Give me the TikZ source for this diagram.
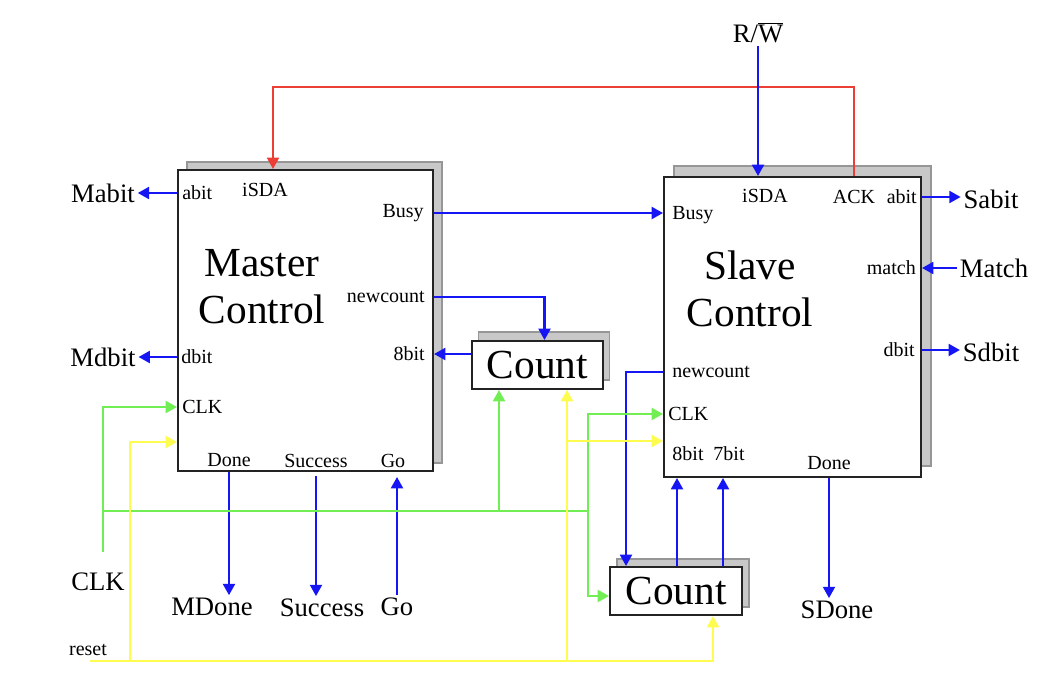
\documentclass[tikz,border=0pt]{standalone}
\usepackage{fontspec}
\setmainfont{Liberation Serif}
\usetikzlibrary{arrows.meta,calc,shadows}
\definecolor{busblue}{RGB}{22,22,245}
\definecolor{ackred}{RGB}{236,62,52}
\definecolor{clkgreen}{RGB}{112,238,84}
\definecolor{rstyellow}{RGB}{255,252,80}
\definecolor{boxedge}{RGB}{35,35,35}
\definecolor{shadefill}{RGB}{200,200,200}
\definecolor{shadeedge}{RGB}{150,150,150}
\tikzset{
  block/.style 2 args={%
    draw=boxedge,fill=white,
    line width=1.5pt,inner sep=0pt,
    drop shadow={shadow xshift=#1,shadow yshift=#2,
      fill=shadefill,draw=shadeedge,line width=1pt,opacity=1},
  },
  countbox/.style={%
    font=\fontsize{31}{35}\selectfont,
    minimum height=36pt,
  },
  title/.style={%
    font=\fontsize{31}{35}\selectfont,
    align=center,
  },
  port/.style={font=\fontsize{15}{18}\selectfont,inner sep=0pt},
  ext/.style={font=\fontsize{20}{24}\selectfont,inner sep=2pt},
  sig/.style={line width=1.6pt,draw=busblue},
  ackline/.style={line width=1.3pt,draw=ackred},
  clkline/.style={line width=1.6pt,draw=clkgreen},
  rstline/.style={line width=1.6pt,draw=rstyellow},
}
\begin{document}
\begin{tikzpicture}[
    x=0.75pt,y=-0.75pt,
    >={Triangle[length=8.5pt,width=9pt]},
  ]
\useasboundingbox (0,0) rectangle (1048,698);
% blocks
\node[block={6.75pt}{6pt},minimum width=191.25pt,minimum height=225.75pt] (master) at (305.5,320.5) {};
\node[block={7.5pt}{8.25pt},minimum width=192.75pt,minimum height=225pt] (slave) at (792.5,327) {};
\node[block={5pt}{6.75pt},countbox,minimum width=98.25pt] (count1) at (537.5,365) {Count};
\node[block={5.25pt}{6pt},countbox,minimum width=99pt] (count2) at (676,591) {Count};
\node[title] (mtitle) at (262,287) {Master\\Control};
\node[title] (stitle) at (750,289) {Slave\\Control};
% master ports
\node[port,anchor=west] (m-abit) at (182,193) {abit};
\node[port] (m-isda) at (265,190) {iSDA};
\node[port,anchor=east] (m-busy) at (424,213) {Busy};
\node[port,anchor=east] (m-newcount) at (425,297) {newcount};
\node[port,anchor=east] (m-8bit) at (425,354) {8bit};
\node[port,anchor=west] (m-dbit) at (181,357) {dbit};
\node[port,anchor=west] (m-clk) at (182,407) {CLK};
\node[port] (m-done) at (229,460) {Done};
\node[port] (m-success) at (316,461) {Success};
\node[port] (m-go) at (393,461) {Go};
% slave ports
\node[port] (s-isda) at (765,196) {iSDA};
\node[port] (s-ack) at (854,197) {ACK};
\node[port,anchor=east] (s-abit) at (917,197) {abit};
\node[port,anchor=west] (s-busy) at (672,215) {Busy};
\node[port,anchor=east] (s-match) at (916,268) {match};
\node[port,anchor=east] (s-dbit) at (915,350) {dbit};
\node[port,anchor=west] (s-newcount) at (672,372) {newcount};
\node[port,anchor=west] (s-clk) at (668,414) {CLK};
\node[port] (s-8bit) at (688,454) {8bit};
\node[port] (s-7bit) at (729,454) {7bit};
\node[port] (s-done) at (829,463) {Done};
% outside signals
\node[ext] (Mabit) at (103,193) {Mabit};
\node[ext] (Mdbit) at (103,357) {Mdbit};
\node[ext] (clkin) at (98,582) {CLK};
\node[port] (reset) at (88,650) {reset};
\node[ext] (MDone) at (212,607) {MDone};
\node[ext] (Success) at (322,608) {Success};
\node[ext] (Go) at (397,607) {Go};
\node[ext] (SDone) at (837,610) {SDone};
\node[ext] (Sabit) at (991,199) {Sabit};
\node[ext] (Match) at (994,268) {Match};
\node[ext] (Sdbit) at (991,352) {Sdbit};
\node[ext] (rw) at (758,33) {R/$\overline{\hbox{W}}$};
\coordinate (ackturn) at (273,87);
\coordinate (clk0) at (103,552);
\coordinate (clkbus) at (588,511);
\coordinate (rst0) at (90,661);
\coordinate (rstup) at (130,661);
\coordinate (c1-clk) at ($(count1.south west)+(28,0)$);
\coordinate (c1-rst) at ($(count1.south west)+(96,0)$);
\coordinate (c2-rst) at ($(count2.south west)+(104,0)$);
\coordinate (c2-8) at ($(count2.north west)+(68,0)$);
\coordinate (c2-7) at ($(count2.north west)+(114,0)$);
\coordinate (m-rst) at ($(master.south west)+(0,-30)$);
\coordinate (s-rst) at ($(slave.south west)+(0,-37)$);
% ack loop
\draw[ackline,->] (slave.north -| s-ack) |- (ackturn) -- (ackturn |- master.north);
% master
\draw[sig,->] (master.west |- m-abit) -- (Mabit.east);
\draw[sig,->] (master.west |- m-dbit) -- (Mdbit.east);
\draw[sig,->] (master.east |- m-busy) -- (slave.west |- m-busy);
\draw[sig,->] (master.east |- m-newcount) -| ($(count1.north)+(7,0)$);
\draw[sig,->] (count1.west |- m-8bit) -- (master.east |- m-8bit);
\draw[sig,->] (master.south -| m-done) -- (MDone.north -| m-done);
\draw[sig,->] ($(master.south -| m-success)+(0,4)$) -- (Success.north -| m-success);
\draw[sig,->] (Go.north) -- ($(Go |- master.south)+(0,5)$);
% slave
\draw[sig,->] (rw.south) -- (rw |- slave.north);
\draw[sig,->] (slave.east |- s-abit) -- (Sabit.west |- s-abit);
\draw[sig,->] (Match.west) -- (slave.east |- Match);
\draw[sig,->] (slave.east |- s-dbit) -- (Sdbit.west |- s-dbit);
\draw[sig,->] (slave.south -| s-done) -- (SDone.north -| s-done);
\draw[sig,->] (slave.west |- s-newcount) -| ($(count2.north west)+(17,0)$);
\draw[sig,->] (c2-8) -- (c2-8 |- slave.south);
\draw[sig,->] (c2-7) -- (c2-7 |- slave.south);
% clock
\draw[clkline,->] (clk0) |- (master.west |- m-clk);
\draw[clkline] (clk0) |- (clkbus);
\draw[clkline,->] (c1-clk |- clkbus) -- (c1-clk);
\draw[clkline,->] (clkbus) |- (slave.west |- s-clk);
\draw[clkline,->] (clkbus) |- ($(count2.west)+(0,5)$);
% reset
\draw[rstline,->] (rst0) -| (c2-rst);
\draw[rstline,->] (rstup) |- (m-rst);
\draw[rstline,->] (rst0 -| c1-rst) -- (c1-rst);
\draw[rstline,->] (c1-rst |- s-rst) -- (s-rst);
\end{tikzpicture}
\end{document}
